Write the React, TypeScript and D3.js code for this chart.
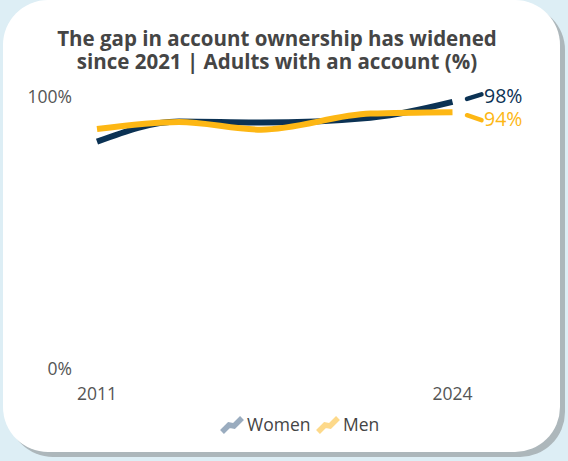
import React from "react";
import * as d3 from "d3";

const years = [2011, 2014, 2017, 2021, 2024];
const women = [83.6, 91.0, 90.6, 92.4, 98.2];
const men = [88.2, 90.8, 88.0, 93.9, 94.4];
const seriesNames = ["Women", "Men"];
const endLabels = ["98%", "94%"];
const yTicks = [0, 100];
const xTicks = [2011, 2024];
const titleLines = [
  "The gap in account ownership has widened",
  "since 2021 | Adults with an account (%)",
];

const NAVY = "#0b3254";
const YELLOW = "#fdb714";
const FONT = "'Open Sans', sans-serif";

export default function App() {
  const W = 568, H = 461;
  const x = d3.scaleLinear().domain([2011, 2024]).range([97, 452.5]);
  const y = d3.scaleLinear().domain([0, 100]).range([369, 97]);
  const line = d3
    .line<number>()
    .x((_, i) => x(years[i]))
    .y((d) => y(d))
    .curve(d3.curveMonotoneX);

  const series = [
    { name: seriesNames[0], values: women, color: NAVY, legend: "#9aacbf", label: endLabels[0], dy: -4.5, ly: 96 },
    { name: seriesNames[1], values: men, color: YELLOW, legend: "#fdd98a", label: endLabels[1], dy: 5, ly: 119 },
  ];

  const iconPath = "M0,15 L7,8 L12,9 L20,1";

  return (
    <svg width={W} height={H} style={{ position: "absolute", left: 0, top: 0 }} fontFamily={FONT}>
      <rect x={0} y={0} width={W} height={H} fill="#ddeef5" />
      <rect x={8} y={5} width={557} height={452} rx={45} fill="#adb7bb" />
      <rect x={3} y={0} width={557} height={452} rx={45} fill="#ffffff" />

      <g fill="#454545" fontWeight={700} fontSize={20.5} textAnchor="middle">
        {titleLines.map((t, i) => (
          <text key={i} x={277} y={45.5 + i * 23.5}>{t}</text>
        ))}
      </g>

      <g fill="#555" fontSize={17.5} textAnchor="end">
        {yTicks.map((t) => (
          <text key={t} x={72} y={y(t)} dy="0.35em">{t}%</text>
        ))}
      </g>
      <g fill="#555" fontSize={17.5} textAnchor="middle">
        {xTicks.map((t) => (
          <text key={t} x={x(t)} y={394} dy="0.35em">{t}</text>
        ))}
      </g>

      {series.map((s) => (
        <path key={s.name} d={line(s.values) || ""} fill="none" stroke={s.color} strokeWidth={6} />
      ))}

      {series.map((s) => {
        const yEnd = y(s.values[s.values.length - 1]);
        return (
          <g key={s.name + "lab"}>
            <line x1={467} y1={yEnd + (s.dy < 0 ? -3 : 3)} x2={481.5} y2={yEnd + (s.dy < 0 ? -3 : 3) + s.dy} stroke={s.color} strokeWidth={4.5} strokeLinecap="round" />
            <text x={484} y={s.ly} dy="0.35em" fontSize={19.5} fill={s.color}>{s.label}</text>
          </g>
        );
      })}

      <g>
        <g transform="translate(222,417)">
          <path d={iconPath} fill="none" stroke={series[0].legend} strokeWidth={5.5} strokeLinejoin="miter" />
        </g>
        <text x={247} y={425} dy="0.35em" fontSize={17.5} fill="#444">{seriesNames[0]}</text>
        <g transform="translate(318,417)">
          <path d={iconPath} fill="none" stroke={series[1].legend} strokeWidth={5.5} strokeLinejoin="miter" />
        </g>
        <text x={343} y={425} dy="0.35em" fontSize={17.5} fill="#444">{seriesNames[1]}</text>
      </g>
    </svg>
  );
}
